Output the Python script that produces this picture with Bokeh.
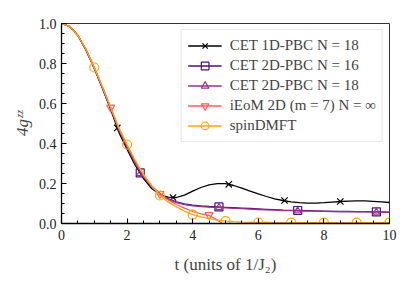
from bokeh.plotting import figure
from bokeh.models import Range1d, SingleIntervalTicker, Legend, LegendItem, CustomJSTickFormatter
from bokeh.embed import file_html
from bokeh.resources import INLINE

# ---- data ----
t = [0.0, 0.25, 0.5, 0.75, 1.0, 1.25, 1.5, 1.75, 2.0, 2.25, 2.5, 2.75, 3.0, 3.25, 3.5, 3.75,
     4.0, 4.25, 4.5, 4.75, 5.0, 5.25, 5.5, 5.75, 6.0, 6.25, 6.5, 6.75, 7.0, 7.25, 7.5, 7.75,
     8.0, 8.25, 8.5, 8.75, 9.0, 9.25, 9.5, 9.75, 10.0]

cet1d = [1.0, 0.985, 0.94, 0.865, 0.775, 0.675, 0.57, 0.455, 0.37, 0.29, 0.225, 0.175, 0.145,
         0.132, 0.13, 0.142, 0.162, 0.18, 0.193, 0.199, 0.199, 0.19, 0.177, 0.162, 0.148, 0.135,
         0.123, 0.115, 0.108, 0.104, 0.102, 0.102, 0.104, 0.107, 0.11, 0.112, 0.113, 0.113,
         0.111, 0.108, 0.105]
cet2d16 = [1.0, 0.985, 0.94, 0.868, 0.778, 0.678, 0.575, 0.468, 0.383, 0.303, 0.235, 0.185, 0.15,
           0.125, 0.108, 0.098, 0.092, 0.088, 0.085, 0.083, 0.081, 0.079, 0.077, 0.075, 0.073,
           0.071, 0.069, 0.067, 0.066, 0.065, 0.064, 0.063, 0.062, 0.061, 0.06, 0.06, 0.059,
           0.059, 0.058, 0.058, 0.057]
cet2d18 = [1.0, 0.985, 0.94, 0.868, 0.778, 0.678, 0.575, 0.468, 0.382, 0.301, 0.233, 0.183, 0.148,
           0.122, 0.104, 0.094, 0.088, 0.085, 0.082, 0.08, 0.078, 0.076, 0.074, 0.072, 0.07,
           0.068, 0.067, 0.065, 0.064, 0.063, 0.062, 0.062, 0.061, 0.06, 0.059, 0.059, 0.058,
           0.058, 0.057, 0.057, 0.056]
t_ieom = [0.0, 0.25, 0.5, 0.75, 1.0, 1.25, 1.5, 1.75, 2.0, 2.25, 2.5, 2.75, 3.0, 3.25, 3.5, 3.75,
          4.0, 4.25, 4.5, 4.75, 5.0]
ieom = [1.0, 0.985, 0.94, 0.87, 0.78, 0.682, 0.58, 0.475, 0.39, 0.31, 0.24, 0.188, 0.148,
        0.118, 0.095, 0.077, 0.06, 0.048, 0.040, 0.018, -0.012]
spin = [1.0, 0.985, 0.94, 0.87, 0.78, 0.682, 0.58, 0.478, 0.395, 0.315, 0.245, 0.188, 0.14,
        0.108, 0.083, 0.062, 0.044, 0.033, 0.024, 0.017, 0.012, 0.009, 0.007, 0.006, 0.005,
        0.005, 0.004, 0.004, 0.004, 0.004, 0.004, 0.004, 0.004, 0.004, 0.004, 0.004, 0.004,
        0.004, 0.004, 0.004, 0.004]

# marker positions
cet1d_mt = [1.7, 3.4, 5.1, 6.8, 8.5]
cet1d_my = [0.478, 0.13, 0.196, 0.115, 0.11]
cet2d16_mt = [2.4, 4.8, 7.2, 9.6]
cet2d16_my = [0.253, 0.083, 0.065, 0.058]
cet2d18_mt = [2.4, 4.8, 7.2, 9.6]
cet2d18_my = [0.25, 0.08, 0.063, 0.057]
ieom_mt = [1.5, 3.0, 4.5]
ieom_my = [0.58, 0.148, 0.043]
spin_mt = [1, 2, 3, 4, 5, 6, 7, 8, 9, 10]
spin_my = [0.78, 0.395, 0.14, 0.044, 0.012, 0.005, 0.004, 0.004, 0.004, 0.004]

labels = ["CET 1D-PBC N = 18", "CET 2D-PBC N = 16", "CET 2D-PBC N = 18",
          "iEoM 2D (m = 7) N = \u221e", "spinDMFT"]
colors = ["#000000", "#4a137a", "#9a3289", "#f1605d", "#fca50a"]

FONT = "Liberation Serif"

p = figure(width=405, height=285, output_backend="svg", toolbar_location=None,
           x_range=Range1d(0, 10), y_range=Range1d(0, 1),
           min_border_left=61, min_border_right=16, min_border_top=23, min_border_bottom=62)
p.xgrid.visible = False
p.ygrid.visible = False
p.outline_line_color = "#333333"
p.outline_line_width = 1

p.xaxis.ticker = SingleIntervalTicker(interval=2, num_minor_ticks=4)
p.yaxis.ticker = SingleIntervalTicker(interval=0.2, num_minor_ticks=4)
p.xaxis.formatter.use_scientific = False
for ax in (p.xaxis, p.yaxis):
    ax.major_tick_in = 5
    ax.major_tick_out = 0
    ax.minor_tick_in = 3
    ax.minor_tick_out = 0
    ax.axis_line_width = 1.3
    ax.major_tick_line_width = 1.1
    ax.major_label_text_font = FONT
    ax.major_label_text_font_size = "14px"
    ax.major_label_text_color = "#222222"
    ax.axis_label_text_font = FONT
    ax.axis_label_text_font_size = "17px"
    ax.axis_label_text_font_style = "normal"
p.yaxis.formatter = CustomJSTickFormatter(code="return tick.toFixed(1);")
p.xaxis.axis_label = "t (units of 1/J\u2082)"
p.yaxis.axis_label = "4g\u1dbb\u1dbb"
p.yaxis.axis_label_text_font_style = "italic"
p.xaxis.axis_label_standoff = 12
p.yaxis.axis_label_standoff = 4
p.xaxis.major_label_standoff = 6

items = []
lw = 1.3
r = p.line(t, cet1d, color=colors[0], line_width=lw)
m = p.scatter(cet1d_mt, cet1d_my, marker="x", size=9, line_color=colors[0], line_width=1.2)
items.append(LegendItem(label=labels[0], renderers=[r, m]))

r = p.line(t, cet2d16, color=colors[1], line_width=lw)
m = p.scatter(cet2d16_mt, cet2d16_my, marker="square", size=8, line_color=colors[1],
              fill_color=None, line_width=1.2)
items.append(LegendItem(label=labels[1], renderers=[r, m]))

r = p.line(t, cet2d18, color=colors[2], line_width=lw)
m = p.scatter(cet2d18_mt, cet2d18_my, marker="triangle", size=7, line_color=colors[2],
              fill_color=None, line_width=1.2)
items.append(LegendItem(label=labels[2], renderers=[r, m]))

r = p.line(t_ieom, ieom, color=colors[3], line_width=lw)
m = p.scatter(ieom_mt, ieom_my, marker="inverted_triangle", size=8, line_color=colors[3],
              fill_color=None, line_width=1.2)
items.append(LegendItem(label=labels[3], renderers=[r, m]))

r = p.line(t, spin, color=colors[4], line_width=lw)
m = p.scatter(spin_mt, spin_my, marker="circle", size=9, line_color=colors[4],
              fill_color=None, line_width=1.2)
items.append(LegendItem(label=labels[4], renderers=[r, m]))

legend = Legend(items=items, location="top_right", margin=6, padding=6,
                label_text_font=FONT, label_text_font_size="15px",
                label_height=19, glyph_height=19, glyph_width=34, spacing=1,
                label_standoff=8, border_line_color="#cccccc", border_line_width=1,
                background_fill_alpha=0.85)
p.add_layout(legend, "center")

open("out.html", "w").write(file_html(p, INLINE))
